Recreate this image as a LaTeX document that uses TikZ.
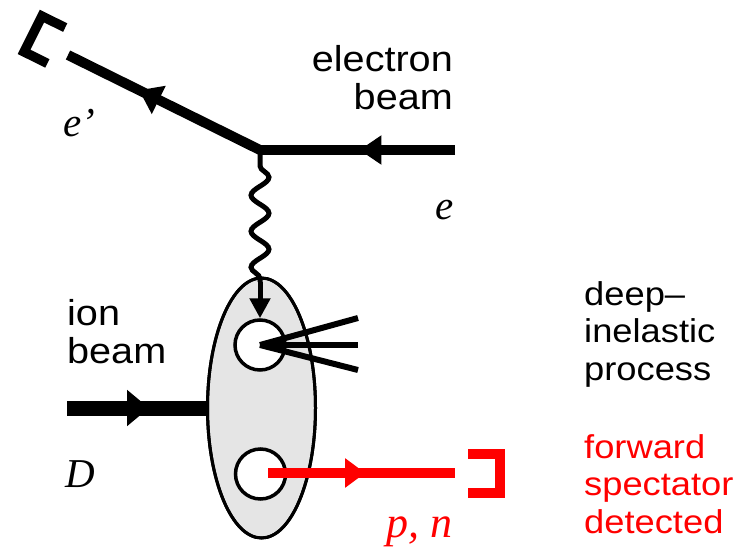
\documentclass[tikz,border=0pt]{standalone}
\usepackage{fontspec}
\setmainfont{Liberation Serif}
\setsansfont[FakeStretch=1.1]{Liberation Sans}
\usetikzlibrary{arrows.meta,shapes.geometric,decorations.pathmorphing,decorations.markings}

\begin{document}
\begin{tikzpicture}[x=1pt, y=-1pt,
  beam/.style={line width=10pt},
  midtip/.style args={#1/#2/#3}{postaction={decorate}, decoration={markings,
      mark=at position #1 with {\arrow{Triangle[length=#2pt, width=#3pt]}}}},
  photon/.style={line width=5pt, decorate, decoration={snake, segment length=36pt,
      amplitude=9pt, pre length=16pt, post length=2pt}},
  nucleon/.style={circle, draw, line width=3.5pt, fill=white, minimum size=50pt, inner sep=0pt},
  jet/.style={line width=6pt},
  detector/.style={line width=9.5pt, miter limit=10},
  lbl/.style={font=\sffamily\fontsize{36}{38}\selectfont, inner sep=0pt},
  side/.style={font=\sffamily\fontsize{33}{37.5}\selectfont, inner sep=0pt, align=left, anchor=base west},
  sym/.style={font=\itshape\fontsize{41}{41}\selectfont, inner sep=0pt}
]
\useasboundingbox (0,0) rectangle (741,548);

% electron vertex
\coordinate (vtx) at (260,150);
\coordinate (ein) at (455,150);
\coordinate (eout) at (68,55);
\draw[beam, midtip=0.49/22/28] (ein) -- (vtx);
\draw[beam, midtip=0.63/22/30] (vtx) -- (eout);

% scattered electron detector
\draw[detector] (65.2,27.6) -- (41.9,16.1) -- (24.1,51.9) -- (47.4,63.4);

% ion beam and deuteron
\coordinate (dstart) at (67,408);
\node[ellipse, draw, line width=3pt, fill=gray!20, minimum width=108pt,
      minimum height=260pt, inner sep=0pt] (ion) at (261.5,408) {};
\draw[line width=15pt, midtip=0.59/22/35] (dstart) -- (ion.west);
\draw[line width=3pt] (ion) ellipse (54pt and 130pt);

% struck nucleon and spectator
\node[nucleon] (quark) at (260,345) {};
\node[nucleon] (spec) at (260.5,474) {};

% virtual photon
\coordinate (phend) at (260,282);
\draw[photon] (vtx) -- (phend);
\draw[line width=5pt, -{Triangle[length=20pt, width=20pt]}] (phend) -- (quark.north);

% hadron jets
\coordinate (j1) at (358,318);
\coordinate (j2) at (358,345);
\coordinate (j3) at (358,370);
\foreach \j in {j1,j2,j3} {
  \draw[jet] (quark.center) -- (\j);
}

% forward spectator
\coordinate (pstart) at (268,473);
\coordinate (pend) at (455,473);
\draw[red, beam, midtip=0.52/20/28] (pstart) -- (pend);
\draw[red, detector] (468,454) -- (500,454) -- (500,493) -- (468,493);

% labels (base = last line)
\node[lbl, anchor=base east, align=right] (elabel) at (453,110) {electron\\beam};
\node[lbl, anchor=base west, align=left] (ilabel) at (67,363) {ion\\beam};
\node[side] (dis) at (584,380) {deep–\\inelastic\\process};
\node[side, text=red] (fwd) at (584,533) {forward\\spectator\\detected};
\node[sym, anchor=base west] (eprime) at (63,137) {e'};
\node[sym, anchor=base east] (elec) at (454,219) {e};
\node[sym, anchor=base west] (deut) at (65,487) {D};
\node[sym, anchor=base east, text=red, font=\itshape\fontsize{44}{44}\selectfont] (pn) at (453,537) {p, n};
\end{tikzpicture}
\end{document}
